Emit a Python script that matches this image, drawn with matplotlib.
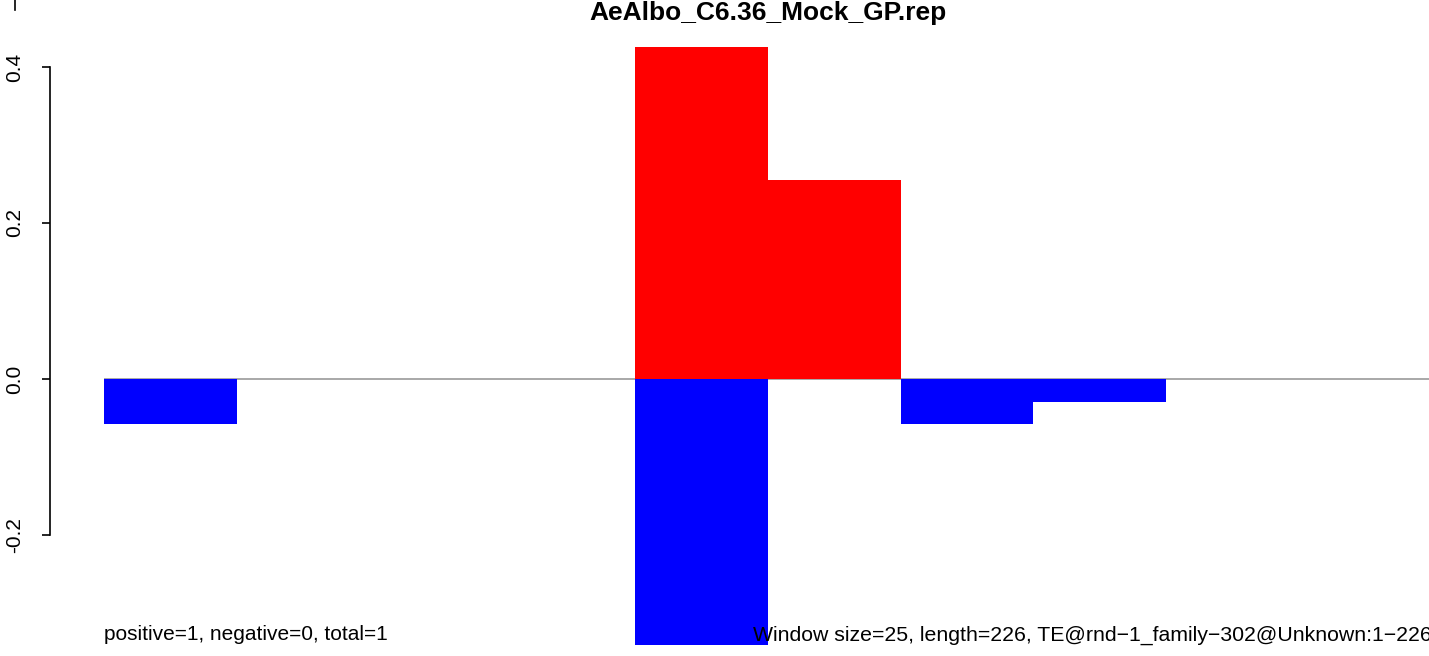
import numpy as np
import matplotlib
matplotlib.use('Agg')
import matplotlib.pyplot as plt
from matplotlib.lines import Line2D

plt.rcParams['font.family'] = ['Liberation Sans', 'DejaVu Sans']

# Data: 10 windows of 25 bp over a 226 bp TE
windows = np.arange(10)
positive = [0, 0, 0, 0, 0.4256, 0.255, 0, 0, 0, 0]
negative = [-0.0577, 0, 0, 0, -0.36, 0, -0.0577, -0.0295, 0, 0]
yticks = [-0.2, 0.0, 0.2, 0.4]

title = 'AeAlbo_C6.36_Mock_GP.rep'
left_note = 'positive=1, negative=0, total=1'
right_note = 'Window size=25, length=226, TE@rnd\u22121_family\u2212302@Unknown:1\u2212226'

W, H = 1429, 656
PX = 72 / 100  # points per pixel
fig = plt.figure(figsize=(W / 100, H / 100), dpi=100)

# axes from x=104px to 1431.5px, y=40px to 645px
ax = fig.add_axes([104 / W, (H - 645) / H, (1431.5 - 104) / W, (645 - 40) / H])
ax.bar(windows, positive, width=1, align='edge', color='red', linewidth=0)
ax.bar(windows, negative, width=1, align='edge', color='blue', linewidth=0)
ax.axhline(0, color='#999999', lw=1.2, zorder=0.5)

ax.set_xlim(0, 10)
ax.set_ylim(-0.341, 0.4346)

for s in ['top', 'right', 'bottom']:
    ax.spines[s].set_visible(False)
ax.spines['left'].set_position(('outward', 54 * PX))
ax.spines['left'].set_bounds(-0.2, 0.4)
ax.spines['left'].set_linewidth(1.2)
ax.set_xticks([])
ax.set_yticks(yticks)
ax.set_yticklabels(['%.1f' % v for v in yticks], rotation=90, va='center', fontsize=15)
ax.tick_params(axis='y', length=8 * PX, width=1.2, pad=18 * PX)

fig.text(767.5 / W, 1 - 13 / H, title, ha='center', va='center', fontsize=19, fontweight='bold')
fig.text(104 / W, 1 - 635 / H, left_note, ha='left', va='center', fontsize=15)
fig.text(1431.5 / W, 1 - 635 / H, right_note, ha='right', va='center', fontsize=15.3)

# stray clipped mark at top-left corner
fig.add_artist(Line2D([15 / W, 15 / W], [1, 1 - 10 / H], color='black', lw=1.2))

fig.savefig('out.png', dpi=100)
